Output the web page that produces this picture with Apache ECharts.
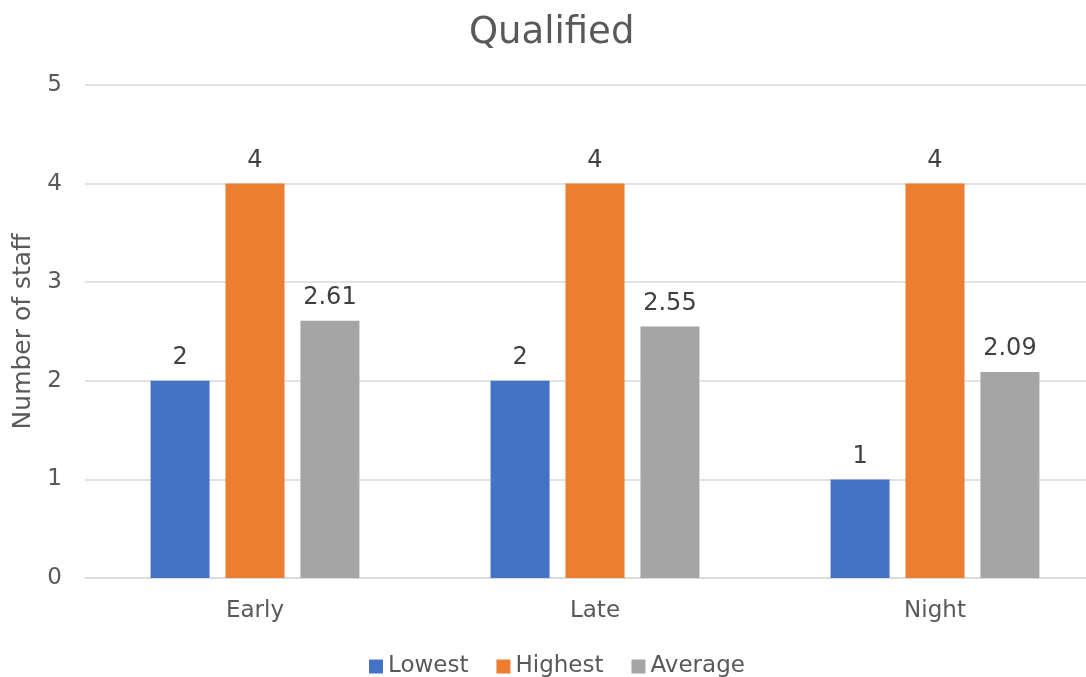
<!DOCTYPE html>
<html lang="en">
<head>
    <meta charset="UTF-8">
    <title>Qualified</title>
    <style>
        body { margin: 0; padding: 0; background: #fff; }
        #chart { width: 1086px; height: 677px; }
    </style>
</head>
<body>
    <div id="chart"></div>
    <script src="https://cdn.jsdelivr.net/npm/echarts@6/dist/echarts.min.js"></script>
    <script>
        var categories = ['Early', 'Late', 'Night'];
        var lowest = [2, 2, 1];
        var highest = [4, 4, 4];
        var average = [2.61, 2.55, 2.09];
        var yTicks = [0, 1, 2, 3, 4, 5];

        var font = '"DejaVu Sans", Verdana, sans-serif';
        var textColor = '#595959';

        var chart = echarts.init(document.getElementById('chart'));

        function barSeries(name, data, color) {
            return {
                name: name,
                type: 'bar',
                data: data,
                barWidth: 59,
                barGap: '27%',
                itemStyle: { color: color },
                label: {
                    show: true,
                    position: 'top',
                    distance: 11,
                    fontFamily: font,
                    fontSize: 24,
                    color: '#404040'
                }
            };
        }

        var option = {
            animation: false,
            textStyle: { fontFamily: font },
            title: {
                text: 'Qualified',
                left: 464,
                top: 10,
                textStyle: { fontFamily: font, fontSize: 37, fontWeight: 'normal', color: textColor }
            },
            legend: {
                top: 650,
                left: 364,
                itemWidth: 14,
                itemHeight: 14,
                itemGap: 28,
                icon: 'rect',
                textStyle: { fontFamily: font, fontSize: 23, color: textColor }
            },
            // plot runs past the right edge, as in the reference
            grid: { left: 85, width: 1020, top: 85, bottom: 99, outerBoundsMode: 'none', containLabel: false },
            xAxis: {
                type: 'category',
                data: categories,
                axisTick: { show: false },
                axisLine: { lineStyle: { color: '#D9D9D9', width: 1.5 } },
                axisLabel: { fontFamily: font, fontSize: 23, color: textColor, margin: 22 }
            },
            yAxis: {
                type: 'value',
                min: yTicks[0],
                max: yTicks[yTicks.length - 1],
                interval: 1,
                name: 'Number of staff',
                nameLocation: 'middle',
                nameGap: 46,
                nameTextStyle: { fontFamily: font, fontSize: 25, color: textColor },
                axisLine: { show: false },
                axisTick: { show: false },
                splitLine: { lineStyle: { color: '#D9D9D9', width: 1.5 } },
                axisLabel: { fontFamily: font, fontSize: 23, color: textColor, margin: 23 }
            },
            series: [
                barSeries('Lowest', lowest, '#4472C4'),
                barSeries('Highest', highest, '#ED7D31'),
                barSeries('Average', average, '#A5A5A5')
            ]
        };

        chart.setOption(option);
    </script>
</body>
</html>
